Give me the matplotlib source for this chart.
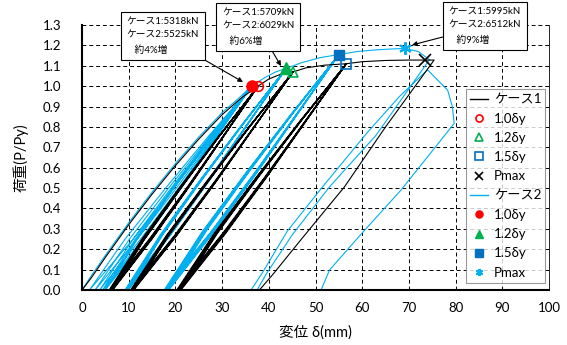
import numpy as np
import matplotlib
matplotlib.use("Agg")
import matplotlib.pyplot as plt
from matplotlib.lines import Line2D

plt.rcParams['font.family'] = ['Lato', 'Noto Sans CJK JP', 'DejaVu Sans']

# 包絡線 (初期載荷)
env1_x = [0, 2, 5, 10, 15, 20, 25, 30, 34, 37.7]
env1_y = [0, 0.06, 0.16, 0.32, 0.47, 0.61, 0.74, 0.86, 0.94, 1.00]
env2_x = [0, 2, 5, 10, 15, 20, 25, 30, 34, 36.3]
env2_y = [0, 0.07, 0.17, 0.33, 0.48, 0.62, 0.75, 0.87, 0.95, 1.00]

# 各振幅の頂点と残留変位 (ケース1)
peak1 = [(37.7, 1.00), (45.2, 1.07), (56.6, 1.11)]
res1 = [[5.8, 6.0, 6.2, 6.3, 6.5, 6.6],
        [10.4, 10.6, 10.8, 10.9, 11.0, 11.1],
        [20.3, 20.5, 20.7, 20.9, 21.0, 21.2]]
# ケース2
peak2 = [(36.3, 1.00), (43.7, 1.087), (55.0, 1.155)]
res2 = [[1.6, 2.8, 3.8, 4.4, 4.8, 5.0],
        [9.2, 9.4, 9.5, 9.6, 9.8, 9.9],
        [17.6, 17.8, 18.0, 18.2, 18.4, 18.6]]

# 振幅間の包絡線
mid1_x = [[37.7, 40, 42.5, 45.2], [45.2, 48, 52, 56.6], [56.6, 60, 65, 70, 73.5, 75.4]]
mid1_y = [[1.00, 1.035, 1.058, 1.07], [1.07, 1.09, 1.103, 1.11], [1.11, 1.12, 1.126, 1.128, 1.128, 1.128]]
mid2_x = [[36.3, 39, 41.5, 43.7], [43.7, 47, 51, 55.0], [55.0, 59, 63, 66, 69.2, 72, 74.4]]
mid2_y = [[1.00, 1.04, 1.07, 1.087], [1.087, 1.115, 1.14, 1.155], [1.155, 1.17, 1.178, 1.182, 1.185, 1.17, 1.13]]

# 最終除荷
fin1_x = [75.4, 65, 56.2, 47, 41, 38.0]
fin1_y = [1.128, 0.80, 0.506, 0.25, 0.08, 0.0]
fin2a_x = [74.4, 63, 53.0, 45, 39.5, 37.5]
fin2a_y = [1.13, 0.76, 0.506, 0.27, 0.08, 0.0]
fin2b_x = [36.2, 38.5, 44, 52, 61, 68, 74.0, 78.3, 79.3, 79.7, 68.3, 60, 53.0, 51.2]
fin2b_y = [0.0, 0.08, 0.29, 0.52, 0.77, 0.95, 1.08, 0.98, 0.90, 0.817, 0.49, 0.28, 0.098, 0.0]

# ループ形状 (頂点からの割合)
unload_yf = [1.0, 0.75, 0.5, 0.25, 0.0]
unload_xf = [1.0, 0.76, 0.52, 0.27, 0.0]
reload_yf = [0.0, 0.25, 0.5, 0.75, 1.0]
reload_xf = [0.0, 0.22, 0.47, 0.73, 1.0]

# マーカー
mk1_x = [37.7, 45.2, 56.6, 73.5]
mk1_y = [1.00, 1.07, 1.11, 1.127]
mk2_x = [36.3, 43.7, 55.0, 69.2]
mk2_y = [1.00, 1.087, 1.155, 1.185]

notes = [("ケース1:5318kN\nケース2:5525kN\n   約4%増", (163, 36), (243, 82)),
         ("ケース1:5709kN\nケース2:6029kN\n   約6%増", (258, 27), (281, 66)),
         ("ケース1:5995kN\nケース2:6512kN\n   約9%増", (485, 26), (412, 45))]

black = "#000000"
cyan = "#00B0F0"


def loop_path(peaks, residuals, env_x, env_y, mids):
    xs = list(env_x)
    ys = list(env_y)
    for (xp, yp), rs, (mx, my) in zip(peaks, residuals, mids):
        for r in rs:
            xs += [r + (xp - r) * f for f in unload_xf]
            ys += [yp * f for f in unload_yf]
            xs += [r + (xp - r) * f for f in reload_xf]
            ys += [yp * f for f in reload_yf]
        xs += mx[1:]
        ys += my[1:]
    return xs, ys


fig = plt.figure(figsize=(5.67, 3.45), dpi=100)
ax = fig.add_axes([82 / 567, 55 / 345, 467 / 567, 265 / 345])

p1x, p1y = loop_path(peak1, res1, env1_x, env1_y, zip(mid1_x, mid1_y))
p1x += fin1_x[1:]
p1y += fin1_y[1:]
ax.plot(p1x, p1y, color=black, lw=0.8, zorder=3)

p2x, p2y = loop_path(peak2, res2, env2_x, env2_y, zip(mid2_x, mid2_y))
p2x += fin2a_x[1:] + fin2b_x
p2y += fin2a_y[1:] + fin2b_y
ax.plot(p2x, p2y, color=cyan, lw=0.8, zorder=2)

ms = 7
ax.plot(mk1_x[0], mk1_y[0], 'o', ms=ms, mfc='none', mec='red', mew=1.2, zorder=5)
ax.plot(mk1_x[1], mk1_y[1], '^', ms=ms, mfc='none', mec='#00B050', mew=1.2, zorder=5)
ax.plot(mk1_x[2], mk1_y[2], 's', ms=ms, mfc='none', mec='#0070C0', mew=1.2, zorder=5)
ax.plot(mk1_x[3], mk1_y[3], 'x', ms=ms + 1, color=black, mew=1.2, zorder=5)
ax.plot(mk2_x[0], mk2_y[0], 'o', ms=ms + 1, color='red', zorder=6)
ax.plot(mk2_x[1], mk2_y[1], '^', ms=ms + 1, color='#00B050', zorder=6)
ax.plot(mk2_x[2], mk2_y[2], 's', ms=ms, color='#0070C0', zorder=6)
ax.plot(mk2_x[3], mk2_y[3], marker=(6, 2, 0), ms=ms + 2, color=cyan, mew=1.5, zorder=6)

ax.set_xlim(0, 100)
ax.set_ylim(0, 1.3)
ax.set_xticks(np.arange(0, 101, 10))
ax.set_yticks(np.arange(0, 1.31, 0.1))
ax.set_yticklabels([f"{v:.1f}" for v in np.arange(0, 1.31, 0.1)])
ax.tick_params(length=0, labelsize=9.5)
ax.tick_params(axis='y', pad=15)
ax.tick_params(axis='x', pad=9)
ax.grid(True, ls=(0, (4, 3)), color='black', lw=0.7)
ax.spines['top'].set_visible(False)
ax.spines['right'].set_linewidth(0.6)
ax.spines['left'].set_linewidth(1.5)
ax.spines['bottom'].set_linewidth(1.5)
ax.set_xlabel("変位 δ(mm)", fontsize=10.5, labelpad=8)
ax.set_ylabel("荷重(P/Py)", fontsize=10.5, labelpad=10)

for txt, (tx, ty), (hx, hy) in notes:
    ax.annotate(txt, xy=(hx, 345 - hy), xycoords='figure pixels',
                xytext=(tx, 345 - ty), textcoords='figure pixels',
                ha='center', va='center', ma='left', fontsize=7, linespacing=1.65,
                bbox=dict(boxstyle='square,pad=0.6', fc='white', ec='black', lw=0.8),
                arrowprops=dict(arrowstyle='-|>', color='black', lw=0.8,
                                mutation_scale=7, shrinkA=0, shrinkB=0),
                annotation_clip=False, zorder=10)

handles = [
    Line2D([], [], color=black, lw=1),
    Line2D([], [], ls='none', marker='o', mfc='none', mec='red', mew=1.2),
    Line2D([], [], ls='none', marker='^', mfc='none', mec='#00B050', mew=1.2),
    Line2D([], [], ls='none', marker='s', mfc='none', mec='#0070C0', mew=1.2),
    Line2D([], [], ls='none', marker='x', color=black, mew=1.2),
    Line2D([], [], color=cyan, lw=1),
    Line2D([], [], ls='none', marker='o', color='red'),
    Line2D([], [], ls='none', marker='^', color='#00B050'),
    Line2D([], [], ls='none', marker='s', color='#0070C0'),
    Line2D([], [], ls='none', marker=(6, 2, 0), color=cyan, mew=1.5),
]
labels = ["ケース1", "1.0δy", "1.2δy", "1.5δy", "Pmax",
          "ケース2", "1.0δy", "1.2δy", "1.5δy", "Pmax"]
leg = ax.legend(handles, labels, loc='lower right', bbox_to_anchor=(1.006, 0.003),
                fontsize=9.5, frameon=True, fancybox=False, handlelength=1.4,
                handletextpad=0.4, borderpad=0.3, labelspacing=0.55, markerscale=0.85)
leg.get_frame().set_edgecolor('#808080')
leg.get_frame().set_linewidth(0.8)
leg.set_zorder(20)

fig.savefig("out.png", dpi=100)
